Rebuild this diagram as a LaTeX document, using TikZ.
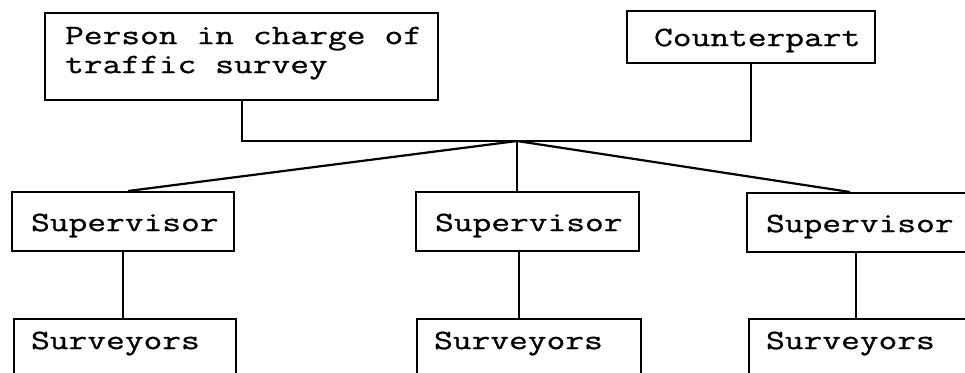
\documentclass[tikz,border=0pt]{standalone}
\usepackage{fontspec}
\setmonofont[FakeStretch=1.3, FakeBold=0.9]{Latin Modern Mono}
\DeclareRobustCommand\chartfont{\ttfamily\fontsize{28}{29}\selectfont}
\begin{document}
\begin{tikzpicture}[x=1pt, y=-1pt, line width=2.2pt,
  % word gap of one character cell, set after the alignment code
  box/.style={draw, rectangle, anchor=north west, inner ysep=0pt,
    align=left, font=\chartfont,
    execute at begin node={\spaceskip=19pt plus 0pt minus 0pt\relax}},
  supbox/.style={box, inner xsep=19pt, text height=39pt, text depth=20pt},
  survbox/.style={box, inner xsep=17pt, text height=30pt, text depth=80pt}]
\clip (0,0) rectangle (965,372);

% top level
\node[box, inner xsep=20pt, text width=353pt, text height=31pt, text depth=56pt]
  (head) at (44,12) {\mbox{Person in charge of}\\\mbox{traffic survey}};
\node[box, inner xsep=27pt, text width=194pt, text height=35pt, text depth=17pt]
  (cp) at (626,10) {Counterpart};

% supervisors
\node[supbox, text width=184pt] (s1) at (11,191) {Supervisor};
\node[supbox, text width=185pt] (s2) at (415,191) {Supervisor};
\node[supbox, text width=212pt] (s3) at (746,192) {Supervisor};

% surveyor teams
\node[survbox, text width=188pt] (v1) at (13,318) {Surveyors};
\node[survbox, text width=190pt] (v2) at (416,318) {Surveyors};
\node[survbox, text width=216pt] (v3) at (748,318) {Surveyors};

% joint bar and branch point
\coordinate (hub) at (517,141);
\draw (head.south) -- (head.south |- hub) -- (hub -| cp.south) -- (cp.south);

% branches to supervisors
\draw (hub) -- ([xshift=117pt]s1.north west);
\draw (hub) -- (hub |- s2.north);
\draw (hub) -- ([xshift=104pt]s3.north west);

% supervisors to surveyors
\draw (s1.south) -- (s1.south |- v1.north);
\draw ([xshift=104pt]s2.south west) coordinate (m2) -- (m2 |- v2.north);
\draw ([xshift=110pt]s3.south west) coordinate (m3) -- (m3 |- v3.north);
\end{tikzpicture}
\end{document}
